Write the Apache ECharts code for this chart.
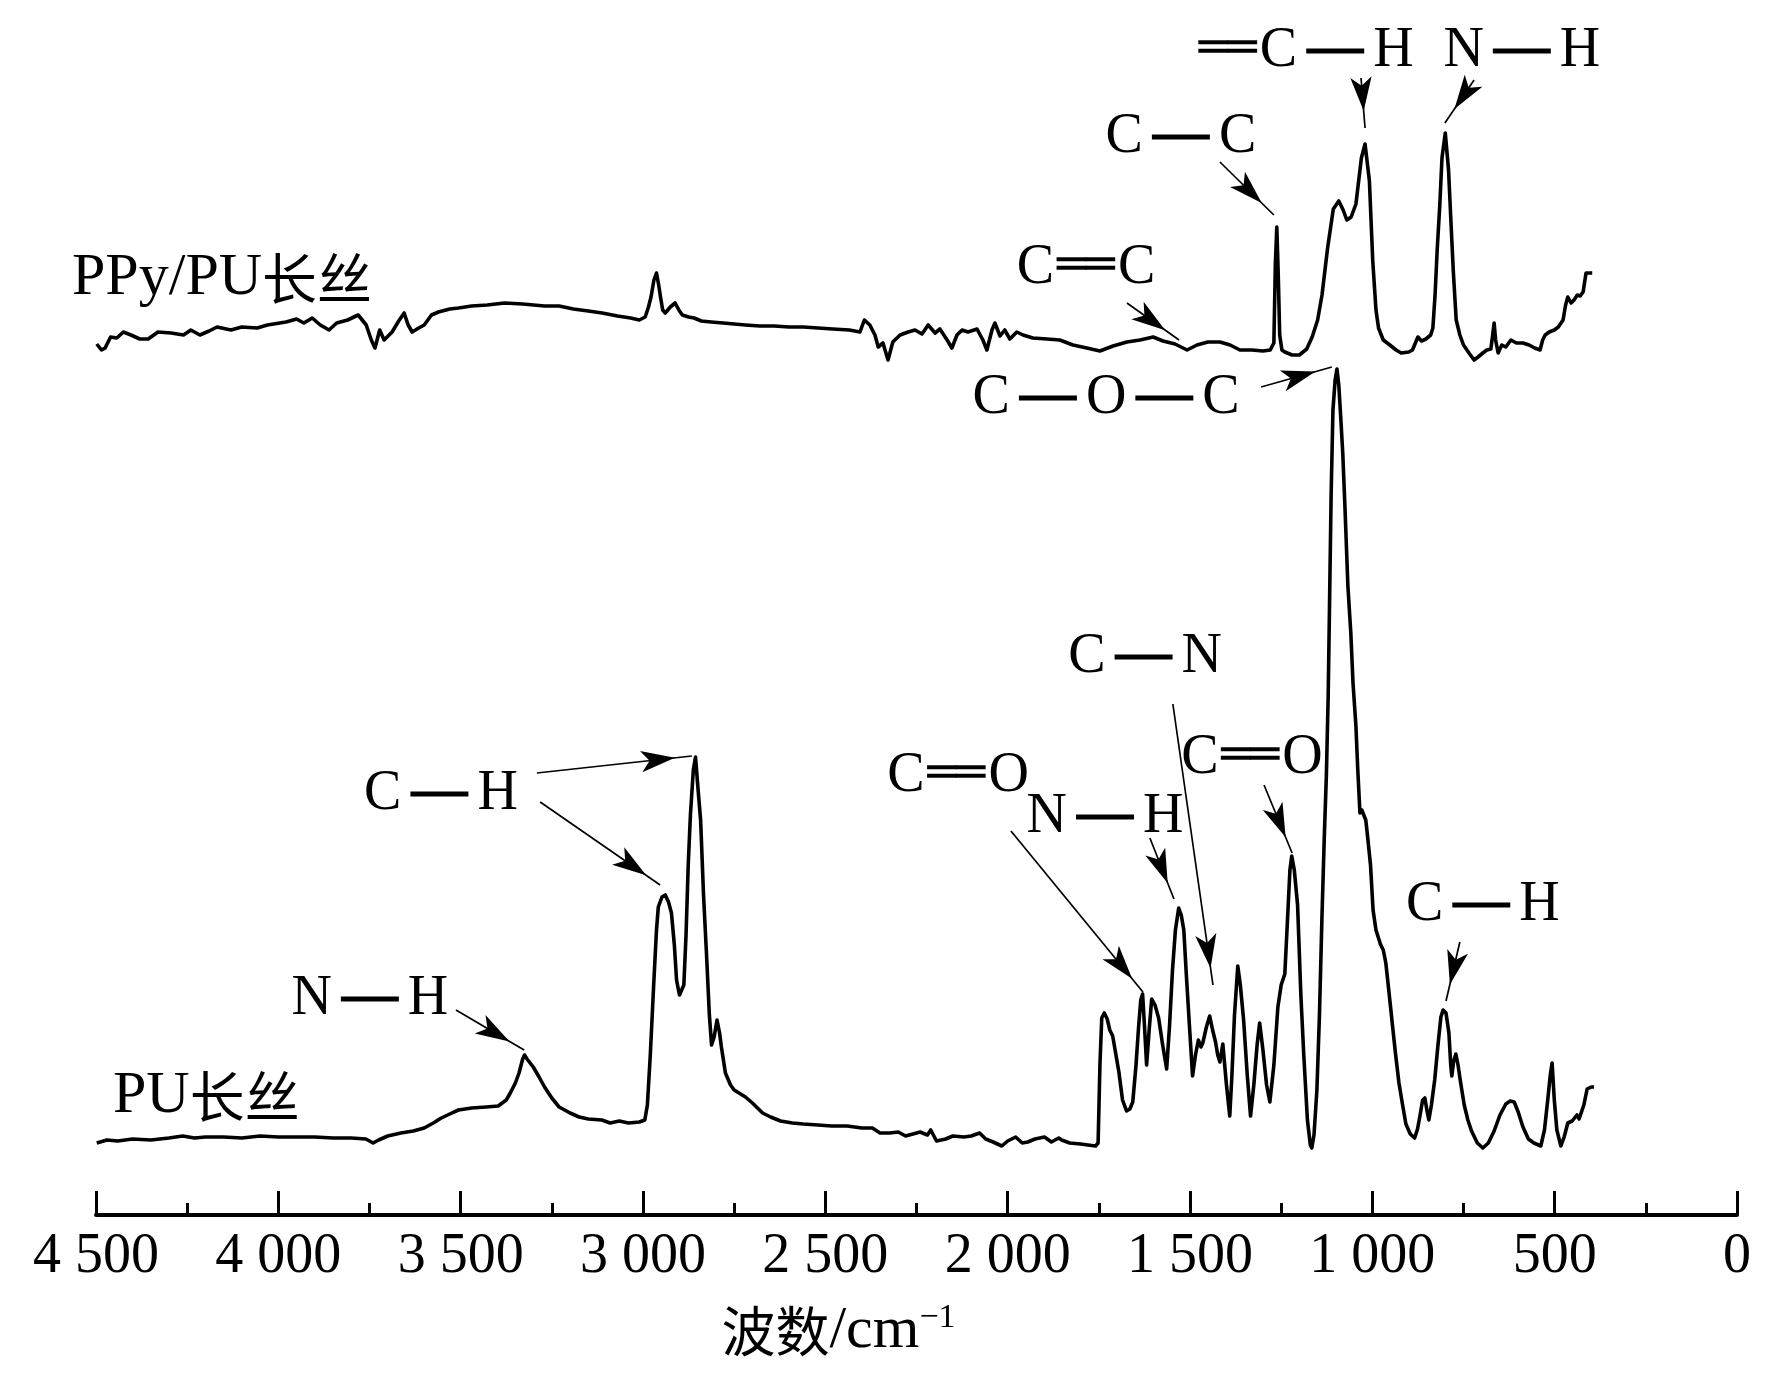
<!DOCTYPE html>
<html>
<head>
<meta charset="utf-8">
<script src="https://cdn.jsdelivr.net/npm/echarts@6/dist/echarts.min.js"></script>
<style>
html,body{margin:0;padding:0;background:#fff;}
#chart{width:1772px;height:1380px;}
</style>
</head>
<body>
<div id="chart"></div>
<script>
// ---------------- data ----------------
const xTickValues = [4500, 4000, 3500, 3000, 2500, 2000, 1500, 1000, 500, 0];

// PU filament spectrum: [wavenumber (cm-1), relative intensity]
const puSpectrum = [
 [4498,7.2],[4470,7.5],[4440,7.4],[4400,7.6],[4350,7.5],[4300,7.7],[4262,7.9],[4230,7.7],[4200,7.8],[4150,7.8],
 [4100,7.7],[4050,7.9],[4000,7.8],[3950,7.8],[3900,7.8],[3850,7.7],[3800,7.7],[3760,7.6],[3740,7.2],[3725,7.5],
 [3700,7.9],[3664,8.2],[3630,8.4],[3600,8.7],[3575,9.2],[3553,9.7],[3530,10.1],[3506,10.5],[3470,10.7],[3430,10.8],
 [3397,10.9],[3375,11.5],[3364,12.2],[3350,13.2],[3340,14.2],[3330,15.6],[3325,16.0],[3318,15.6],[3301,14.8],[3285,13.8],
 [3270,12.8],[3250,11.7],[3230,10.8],[3200,10.2],[3175,9.8],[3150,9.6],[3113,9.5],[3090,9.2],[3065,9.4],[3040,9.2],
 [3010,9.3],[2995,9.5],[2988,11],[2980,16],[2971,22.8],[2963,28.5],[2958,30.8],[2948,31.8],[2939,32.0],[2930,31.3],
 [2922,30.2],[2914,27],[2908,23.5],[2900,22],[2895,21.8],[2888,23],[2882,28],[2876,35],[2870,40],[2862,44.5],
 [2856,45.8],[2850,43],[2842,39.5],[2834,32],[2826,26.2],[2818,20],[2812,17.0],[2805,17.8],[2797,19.5],[2790,18.2],
 [2785,16.8],[2774,14.2],[2760,13],[2750,12.5],[2719,11.8],[2700,11.2],[2672,10.2],[2650,9.8],[2623,9.4],[2590,9.2],
 [2560,9.1],[2520,9.0],[2483,8.9],[2440,8.9],[2400,8.7],[2371,8.7],[2350,8.2],[2324,8.2],[2300,8.3],[2280,7.9],
 [2260,8.1],[2240,8.3],[2220,8.0],[2211,8.5],[2195,7.4],[2170,7.6],[2150,7.9],[2120,7.8],[2100,7.9],[2077,8.2],
 [2060,7.6],[2040,7.3],[2016,6.9],[2000,7.4],[1978,7.8],[1960,7.2],[1945,7.3],[1925,7.6],[1899,7.8],[1880,7.3],
 [1860,7.7],[1852,7.5],[1830,7.2],[1800,7.1],[1780,7.0],[1759,6.9],[1752,7.2],[1747,15],[1742,19.7],[1735,20.2],
 [1727,19.6],[1720,18.5],[1712,17.9],[1703,16],[1695,14.3],[1685,11.5],[1674,10.4],[1665,10.6],[1657,11.3],[1648,15],
 [1641,18.8],[1635,21.5],[1630,22.1],[1625,19],[1619,15.0],[1612,18.5],[1605,21.6],[1596,21],[1586,19.7],[1575,17],
 [1564,14.6],[1556,19],[1548,24.5],[1540,28.5],[1531,30.7],[1524,30],[1517,28.5],[1510,24],[1501,18.6],[1493,13.9],
 [1485,16],[1477,17.5],[1470,16.8],[1465,17.2],[1455,18.8],[1446,19.9],[1438,18.5],[1430,17.3],[1424,16],[1418,15.3],
 [1410,17.1],[1400,13],[1391,9.9],[1385,14],[1378,20],[1369,24.9],[1362,23],[1353,19.5],[1343,14],[1334,9.9],
 [1325,13],[1316,17],[1309,19.2],[1300,16.5],[1290,13],[1281,11.3],[1270,15],[1259,20.8],[1250,23],[1240,24.1],
 [1232,30],[1226,34.5],[1221,35.9],[1214,34.5],[1205,31],[1196,22],[1188,16],[1178,9.5],[1170,7.0],[1166,6.7],
 [1160,8],[1152,12.5],[1145,20],[1138,30],[1132,37.5],[1126,44],[1121,52],[1117,62],[1113,72],[1108,80.5],
 [1102,83.5],[1097,84.6],[1092,83],[1087,80],[1081,76.1],[1075,70.7],[1067,62.9],[1059,58.2],[1053,53.2],[1045,48.9],
 [1040,44.6],[1034,40.2],[1029,40.5],[1024,40.5],[1018,39.5],[1012,37.5],[1005,35],[998,30.5],[990,28.5],[978,27.1],
 [970,26.5],[963,25.2],[955,22.5],[946,19.4],[937,16.3],[927,13.2],[917,11],[908,9.1],[896,8.1],[884,7.7],
 [876,8.6],[869,10],[862,11.5],[856,11.7],[850,10.4],[845,9.5],[838,11],[829,13.5],[820,17],[812,19.8],
 [806,20.5],[798,20.2],[790,18.2],[785,15],[782,13.9],[777,15.4],[771,16.1],[765,15],[759,13.5],[748,11],
 [738,9.5],[728,8.4],[712,7.2],[697,6.7],[682,7.2],[666,8.4],[650,10],[634,11.1],[622,11.4],[611,11.3],
 [600,10.3],[587,8.8],[572,7.6],[557,7.2],[538,6.9],[528,8.5],[519,11.5],[512,14],[507,15.2],[501,11.5],
 [494,8.5],[483,6.9],[474,7.8],[464,9.2],[452,9.4],[439,10.0],[433,9.6],[428,9.4],[420,11],[411,12.6],
 [400,12.8],[392,12.8]
];

// PPy/PU filament spectrum: [wavenumber (cm-1), relative intensity]
const ppySpectrum = [
 [4498,87.1],[4485,86.5],[4475,86.7],[4460,87.8],[4443,87.7],[4425,88.3],[4404,88.0],[4380,87.6],[4357,87.6],[4330,88.3],
 [4294,88.2],[4260,88.0],[4240,88.5],[4215,88.0],[4190,88.4],[4168,88.8],[4130,88.5],[4100,88.8],[4058,88.7],[4030,89.0],
 [3979,89.3],[3950,89.6],[3930,89.2],[3907,89.7],[3885,89.0],[3861,88.5],[3840,89.2],[3810,89.5],[3781,90.0],[3759,89.0],
 [3745,87.5],[3735,86.7],[3722,88.5],[3710,87.5],[3688,88.3],[3670,89.4],[3655,90.2],[3644,89.0],[3633,88.3],[3615,88.7],
 [3600,89.0],[3580,90.0],[3561,90.3],[3530,90.6],[3506,90.7],[3470,90.9],[3427,91.0],[3380,91.2],[3330,91.1],[3270,90.9],
 [3230,90.9],[3191,90.6],[3150,90.4],[3112,90.2],[3070,89.9],[3034,89.7],[3010,89.5],[2994,89.8],[2985,90.8],[2978,91.8],
 [2970,93.5],[2963,94.2],[2957,93],[2952,91.8],[2946,90.5],[2939,90.2],[2925,90.8],[2912,91.2],[2900,90.4],[2892,90.0],
 [2875,89.8],[2860,89.7],[2840,89.4],[2813,89.3],[2780,89.2],[2750,89.1],[2719,89.0],[2680,88.9],[2640,88.9],[2600,88.8],
 [2560,88.8],[2520,88.7],[2480,88.6],[2434,88.5],[2405,88.3],[2393,89.5],[2378,89.0],[2364,88.0],[2355,86.8],[2342,87.2],
 [2328,85.5],[2315,87.3],[2295,88.0],[2273,88.3],[2254,88.5],[2235,88.1],[2218,89.0],[2199,88.2],[2186,88.6],[2166,87.5],
 [2153,86.7],[2139,88.0],[2125,88.5],[2109,88.3],[2084,88.6],[2068,87.5],[2057,86.5],[2043,88.5],[2035,89.2],[2021,87.9],
 [2008,88.5],[1994,87.6],[1975,88.3],[1958,88.0],[1931,87.7],[1892,87.6],[1857,87.5],[1821,87.0],[1783,86.7],[1747,86.4],
 [1711,86.9],[1673,87.3],[1637,87.5],[1601,87.8],[1574,87.4],[1541,87.1],[1508,86.5],[1481,87.0],[1451,87.3],[1418,87.3],
 [1390,87.0],[1363,86.5],[1330,86.5],[1300,86.4],[1280,86.5],[1270,87.2],[1266,95],[1262,98.8],[1258,94],[1254,88],
 [1248,86.5],[1240,86.3],[1220,86.0],[1200,86.0],[1180,86.6],[1165,87.8],[1150,89.5],[1138,92],[1123,96.6],[1107,100.6],
 [1092,101.4],[1080,100.5],[1070,99.5],[1058,99.8],[1045,101.1],[1030,105.7],[1020,107.1],[1008,103.4],[999,95.5],[990,90.5],
 [983,88.7],[970,87.5],[952,87.0],[935,86.5],[921,86.2],[900,86.3],[890,86.5],[875,87.8],[865,87.4],[853,87.6],
 [840,88.0],[834,88.7],[828,92],[822,96.6],[815,101],[809,105.7],[800,108.2],[791,104.5],[784,99],[778,94.4],
 [770,89.5],[760,88],[750,87],[735,86.2],[721,85.5],[710,85.8],[697,86.2],[686,86.5],[675,86.6],[670,88],
 [666,89.2],[662,87.5],[655,86.2],[645,87],[634,86.8],[620,87.5],[605,87.2],[587,87.2],[570,87.0],[555,86.7],
 [540,86.5],[533,87.5],[526,88.0],[515,88.3],[501,88.5],[490,88.8],[477,89.5],[470,91.0],[464,91.8],[455,91.2],
 [447,91.5],[438,92.0],[430,91.9],[422,92.3],[414,94.2],[397,94.2]
];

// annotation labels: [text, wavenumber, intensity]
const ppyLabels = [
 ['═C—H', 1185, 116.4],
 ['N—H', 590, 116.4],
 ['C—C', 1525, 107.8],
 ['C═C', 1785, 94.7]
];
const puLabels = [
 ['C—O—C', 1730, 81.7],
 ['C—H', 3554, 42.1],
 ['N—H', 3749, 21.6],
 ['C═O', 2136, 43.9],
 ['N—H', 1733, 39.8],
 ['C—N', 1623, 55.8],
 ['C═O', 1330, 45.7],
 ['C—H', 697, 31.0]
];
// annotation arrows: [fromWn, fromVal, toWn, toVal]
const ppyArrows = [
 [1031, 113.7, 1020, 108.7],
 [721, 113.5, 801, 109.2],
 [1418, 105.3, 1270, 100.0],
 [1673, 91.2, 1530, 87.5]
];
const puArrows = [
 [1305, 82.8, 1111, 84.8],
 [3291, 44.2, 2866, 45.9],
 [3282, 41.3, 2953, 33.0],
 [3513, 20.5, 3326, 16.5],
 [1991, 38.4, 1629, 22.3],
 [1610, 37.7, 1544, 31.6],
 [1547, 51.1, 1437, 23.0],
 [1297, 43.0, 1220, 36.2],
 [760, 27.3, 798, 21.4]
];
const seriesNames = ['PU长丝', 'PPy/PU长丝'];

// ---------------- styles / helpers ----------------
const SERIF = 'Liberation Serif';
const CJK = 'Noto Sans CJK SC';

const formulaRich = {
  t: {fontFamily: SERIF, fontSize: 56, color: '#000'},
  g: {width: 9},
  h: {width: 3},
  b: {width: 58, height: 5, backgroundColor: '#000'},
  d: {fontFamily: 'DejaVu Sans', fontSize: 48, color: '#000'}
};
function toRich(s) {
  let out = '';
  for (const ch of s) {
    if (ch === '—') out += '{g| }{b| }{g| }';
    else if (ch === '═') out += '{h| }{d|══}{h| }';
    else out += '{t|' + ch + '}';
  }
  return out;
}
function labelPoints(list) {
  return list.map(function (l) {
    return {
      coord: [l[1], l[2]],
      symbol: 'rect', symbolSize: 1,
      itemStyle: {color: 'rgba(0,0,0,0)'},
      label: {show: true, position: 'inside', formatter: toRich(l[0]), rich: formulaRich}
    };
  });
}
function arrowLines(list) {
  return list.map(function (a) {
    return [
      {coord: [a[0], a[1]], symbol: 'none'},
      {coord: [a[2], a[3]], symbol: 'arrow', symbolSize: [16, 34], symbolOffset: [0, 17]}
    ];
  });
}
function fmtTick(v) {
  if (v >= 1000) {
    const th = Math.floor(v / 1000);
    const r = String(v % 1000).padStart(3, '0');
    return th + ' ' + r;
  }
  return String(v);
}

const chart = echarts.init(document.getElementById('chart'), null, {renderer: 'canvas'});
const option = {
  backgroundColor: '#ffffff',
  animation: false,
  grid: {left: 96, right: 35, top: 0, bottom: 165, containLabel: false},
  xAxis: {
    type: 'value',
    inverse: true,
    min: xTickValues[xTickValues.length - 1],
    max: xTickValues[0],
    interval: xTickValues[0] - xTickValues[1],
    splitLine: {show: false},
    axisLine: {show: true, onZero: false, lineStyle: {color: '#000', width: 4}},
    axisTick: {show: true, inside: true, length: 24, lineStyle: {color: '#000', width: 3}},
    minorTick: {show: true, splitNumber: 2, length: 12, lineStyle: {color: '#000', width: 3}},
    axisLabel: {
      show: true, margin: 14, color: '#000',
      fontFamily: SERIF, fontSize: 56,
      formatter: fmtTick
    },
    name: '{a|波数}{b|/cm}{c|−1}',
    nameLocation: 'middle',
    nameGap: 86,
    nameTextStyle: {
      padding: [0, 156, 0, 0],
      rich: {
        a: {fontFamily: CJK, fontSize: 54, color: '#000'},
        b: {fontFamily: SERIF, fontSize: 60, color: '#000'},
        c: {fontFamily: SERIF, fontSize: 34, color: '#000', verticalAlign: 'top'}
      }
    }
  },
  yAxis: {type: 'value', show: false, min: 0, max: 121.5},
  graphic: [
    {type: 'text', left: 72, top: 248, silent: true,
     style: {text: '{a|PPy/PU}{b|长丝}', rich: {
       a: {fontFamily: SERIF, fontSize: 60, fill: '#000', color: '#000'},
       b: {fontFamily: CJK, fontSize: 55, fill: '#000', color: '#000'}}}},
    {type: 'text', left: 113, top: 1066, silent: true,
     style: {text: '{a|PU}{b|长丝}', rich: {
       a: {fontFamily: SERIF, fontSize: 60, fill: '#000', color: '#000'},
       b: {fontFamily: CJK, fontSize: 55, fill: '#000', color: '#000'}}}}
  ],
  series: [
    {
      name: seriesNames[0], type: 'line', data: puSpectrum, showSymbol: false, symbol: 'none',
      lineStyle: {color: '#000', width: 3.6, join: 'round'}, itemStyle: {color: '#000'}, clip: false,
      markLine: {
        silent: true, animation: false, precision: 3,
        lineStyle: {color: '#000', width: 1.7, type: 'solid'},
        label: {show: false}, emphasis: {disabled: true},
        data: arrowLines(puArrows)
      },
      markPoint: {silent: true, animation: false, data: labelPoints(puLabels)}
    },
    {
      name: seriesNames[1], type: 'line', data: ppySpectrum, showSymbol: false, symbol: 'none',
      lineStyle: {color: '#000', width: 3.6, join: 'round'}, itemStyle: {color: '#000'}, clip: false,
      markLine: {
        silent: true, animation: false, precision: 3,
        lineStyle: {color: '#000', width: 1.7, type: 'solid'},
        label: {show: false}, emphasis: {disabled: true},
        data: arrowLines(ppyArrows)
      },
      markPoint: {silent: true, animation: false, data: labelPoints(ppyLabels)}
    }
  ]
};
chart.setOption(option);
</script>
</body>
</html>
